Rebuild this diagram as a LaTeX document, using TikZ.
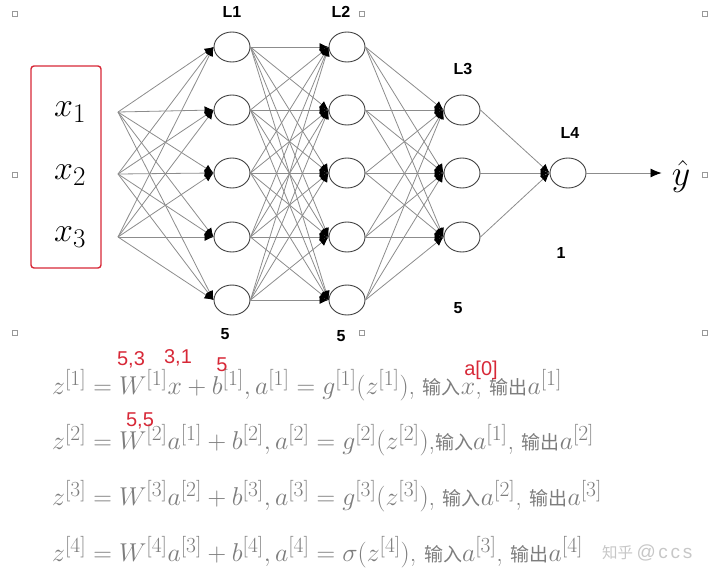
\RequirePackage{fix-cm}
\documentclass[tikz,border=0pt]{standalone}
\usepackage{amsmath}
\usepackage{fontspec}
\usepackage{tikz}
\usetikzlibrary{arrows.meta,shapes.geometric}
\newfontfamily\cjk{Noto Sans CJK SC}
\newfontfamily\helv{Liberation Sans}
\newfontfamily\wmfont{Liberation Sans}[LetterSpace=14]
\DeclareMathSizes{25.8}{25.8}{21.5}{16}
\DeclareMathSizes{34}{34}{27}{20}
\DeclareMathSizes{36}{36}{27}{20}
\definecolor{eqgray}{RGB}{125,125,125}
\definecolor{notered}{RGB}{215,40,55}
\newcommand{\zh}[1]{{\cjk\fontsize{19}{22}\selectfont #1}}
\tikzset{
  neuron/.style={draw=black!75, line width=0.9pt, ellipse, minimum width=36pt, minimum height=30pt, inner sep=0pt},
  link/.style={draw=black!45, line width=0.8pt, -{Latex[length=9pt,width=8pt,black]}},
  lbl/.style={font=\helv\bfseries\fontsize{16}{16}\selectfont},
  note/.style={text=notered, font=\helv\fontsize{20}{20}\selectfont, inner sep=0pt},
  eq/.style={text=eqgray, anchor=west, inner sep=0pt, font=\fontsize{25.8}{30}\selectfont},
  bigmath/.style={font=\fontsize{34}{34}\selectfont},
  handle/.style={draw=black!40, fill=white, line width=0.4pt, minimum size=5pt, inner sep=0pt}
}
\begin{document}
\begin{tikzpicture}[x=1pt, y=-1pt]
  \useasboundingbox (0,0) rectangle (720,579);
  % input box
  \draw[notered, line width=1.4pt, rounded corners=3pt] (31,66) rectangle (101,268);
  \node[bigmath] (x1) at (70,112) {$x_1$};
  \node[bigmath] (x2) at (70,175) {$x_2$};
  \node[bigmath] (x3) at (70,237) {$x_3$};
  \coordinate (i1) at (118,112);
  \coordinate (i2) at (118,174);
  \coordinate (i3) at (118,237);
  % layers
  \foreach \j/\y in {1/47,2/110,3/173,4/237,5/300} {
    \node[neuron] (a\j) at (232,\y) {};
    \node[neuron] (b\j) at (347,\y) {};
  }
  \foreach \j/\y in {1/110,2/173,3/237}
    \node[neuron] (c\j) at (462,\y) {};
  \node[neuron] (d1) at (568,173) {};
  % connections
  \foreach \i in {1,2,3}
    \foreach \j in {1,...,5}
      \draw[link] (i\i) -- (a\j.west);
  \foreach \i in {1,...,5}
    \foreach \j in {1,...,5}
      \draw[link] (a\i.east) -- (b\j.west);
  \foreach \i in {1,...,5}
    \foreach \j in {1,2,3}
      \draw[link] (b\i.east) -- (c\j.west);
  \foreach \i in {1,2,3}
    \draw[link] (c\i.east) -- (d1.west);
  \node[font=\fontsize{36}{36}\selectfont, inner sep=0pt] (yhat) at (681,176) {$\hat{y}$};
  \draw[link, -{Latex[length=11pt,width=9pt,black]}, shorten >=10pt] (d1.east) -- (yhat.west |- d1.east);
  % layer labels
  \node[lbl] (l1) at (232,12) {L1};
  \node[lbl] (l2) at (341,12) {L2};
  \node[lbl] (l3) at (463,69) {L3};
  \node[lbl] (l4) at (570,133) {L4};
  \node[lbl] (n1) at (225,334) {5};
  \node[lbl] (n2) at (341,336) {5};
  \node[lbl] (n3) at (458,308) {5};
  \node[lbl] (n4) at (561,253) {1};
  % selection handles
  \foreach \hx/\hy [count=\k] in {15/14,362/14,705/14,15/175,705/175,15/333,362/333,705/333}
    \node[handle] (h\k) at (\hx,\hy) {};
  % equations
  \node[eq] (e1) at (52,385) {$z^{[1]} = W^{[1]}x + b^{[1]}, a^{[1]} = g^{[1]}(z^{[1]})$, \zh{输入}$x$, \zh{输出}$a^{[1]}$};
  \node[eq] (e2) at (52,440) {$z^{[2]} = W^{[2]}a^{[1]} + b^{[2]}, a^{[2]} = g^{[2]}(z^{[2]})$,\zh{输入}$a^{[1]}$, \zh{输出}$a^{[2]}$};
  \node[eq] (e3) at (52,496) {$z^{[3]} = W^{[3]}a^{[2]} + b^{[3]}, a^{[3]} = g^{[3]}(z^{[3]})$, \zh{输入}$a^{[2]}$, \zh{输出}$a^{[3]}$};
  \node[eq] (e4) at (52,552) {$z^{[4]} = W^{[4]}a^{[3]} + b^{[4]}, a^{[4]} = \sigma(z^{[4]})$, \zh{输入}$a^{[3]}$, \zh{输出}$a^{[4]}$};
  \node[anchor=west, inner sep=0pt, text=black!22] (wm) at (602,553) {{\cjk\fontsize{15.5}{16}\selectfont 知乎} {\wmfont\fontsize{19}{19}\selectfont @ccs}};
  % red notes
  \node[note] (s1) at (131,360) {5,3};
  \node[note] (s2) at (178,358) {3,1};
  \node[note] (s3) at (222,365) {5};
  \node[note] (s4) at (481,370) {a[0]};
  \node[note] (s5) at (140,421) {5,5};
\end{tikzpicture}
\end{document}
